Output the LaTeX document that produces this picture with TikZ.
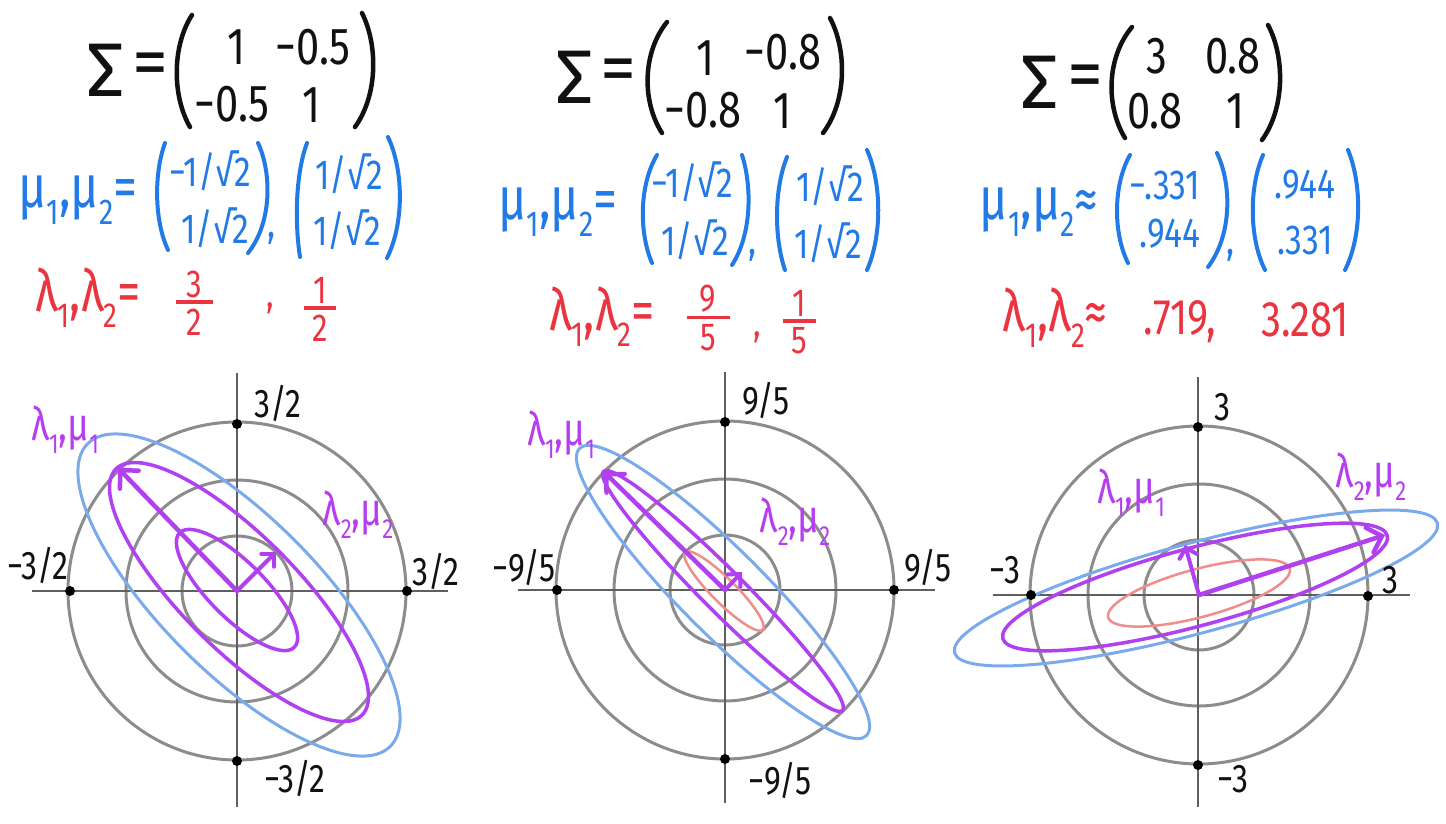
\documentclass[tikz,border=0pt]{standalone}
\usepackage{fontspec}
\setmainfont{Fira Sans}
\newfontfamily\narrowf[FakeStretch=0.8]{Fira Sans}
\usetikzlibrary{arrows.meta}
\definecolor{ink}{RGB}{17,17,17}
\definecolor{tblue}{RGB}{34,122,230}
\definecolor{tred}{RGB}{234,52,64}
\definecolor{tpurp}{RGB}{183,62,240}
\definecolor{eblue}{RGB}{122,170,235}
\definecolor{epurp}{RGB}{176,64,240}
\definecolor{esalm}{RGB}{240,140,140}
\definecolor{cgray}{RGB}{140,140,140}
\definecolor{agray}{RGB}{95,95,95}
\newcommand\lsub[1]{\raisebox{-0.28em}{\scalebox{0.6}{#1}}}
\newcommand\fracstack[3]{\vbox{\offinterlineskip\halign{\hfil##\hfil\cr #1\cr\noalign{\kern3pt}\rule{#3}{3.5pt}\cr\noalign{\kern5pt}#2\cr}}}
\begin{document}
\begin{tikzpicture}[x=1pt,y=-1pt,
  txt/.style={inner sep=0pt,anchor=center},
  big/.style={txt,font=\narrowf\fontsize{52}{60}\selectfont,text=ink},
  eqs/.style={txt,font=\fontsize{72}{80}\selectfont,text=ink},
  sig/.style={txt,font=\fontsize{76}{90}\selectfont,text=ink},
  vec/.style={txt,font=\narrowf\fontsize{42}{48}\selectfont,text=tblue},
  mulab/.style={txt,font=\narrowf\fontsize{60}{66}\selectfont,text=tblue},
  lamlab/.style={txt,font=\narrowf\fontsize{58}{66}\selectfont,text=tred},
  lamnum/.style={txt,font=\narrowf\fontsize{50}{58}\selectfont,text=tred},
  fracn/.style={txt,font=\narrowf\fontsize{39}{44}\selectfont,text=tred},
  axlab/.style={txt,font=\narrowf\fontsize{40}{46}\selectfont,text=ink},
  plab/.style={txt,font=\narrowf\fontsize{46}{52}\selectfont,text=tpurp},
  paren/.style={line width=4.5pt,draw=ink,line cap=round},
  bparen/.style={line width=4pt,draw=tblue,line cap=round},
  ring/.style={draw=cgray,line width=3pt},
  axisline/.style={draw=agray,line width=2.5pt},
  dotn/.style={circle,fill=black,inner sep=0pt,minimum size=10pt},
  pell/.style={draw=epurp,line width=3.5pt},
  bell/.style={draw=eblue,line width=3pt},
  sell/.style={draw=esalm,line width=2.5pt},
  evec/.style={draw=epurp,line width=4.5pt,line cap=round,
    -{Straight Barb[length=13pt,width=26pt,line width=4.5pt,line cap=round]}},
  evecs/.style={draw=epurp,line width=4pt,line cap=round,
    -{Straight Barb[length=9pt,width=18pt,line width=4pt,line cap=round]}}
]
\fill[white] (0,0) rectangle (1446,823);
\useasboundingbox (0,0) rectangle (1446,823);

% ---------------- Panel 1 ----------------
\coordinate (c1) at (237,591);
\draw[ring] (c1) circle[radius=55];
\draw[ring] (c1) circle[radius=111];
\draw[ring] (c1) circle[radius=169];
\coordinate (p1w) at (32,591); \coordinate (p1e) at (448,591);
\coordinate (p1n) at (237,373); \coordinate (p1s) at (237,807);
\draw[axisline] (p1w) -- (p1e);
\draw[axisline] (p1n) -- (p1s);
\draw[bell,rotate around={-45:(239,595)}] (239,595) ellipse[x radius=214,y radius=78];
\draw[pell,rotate around={-45:(239,592)}] (239,592) ellipse[x radius=174,y radius=57];
\draw[pell,rotate around={-45:(237,590)}] (237,590) ellipse[x radius=81,y radius=28];
\coordinate (t1a) at (118,468); \coordinate (t1b) at (276,552);
\draw[evec] (c1) -- (t1a);
\draw[evecs] (c1) -- (t1b);
\node[dotn] (d1n) at (237,424) {};
\node[dotn] (d1e) at (407,591) {};
\node[dotn] (d1w) at (70,591) {};
\node[dotn] (d1s) at (237,761) {};
\node[axlab] (a1n) at (278,403) {3/2};
\node[axlab] (a1w) at (38,565) {−3/2};
\node[axlab] (a1e) at (436,571) {3/2};
\node[axlab] (a1s) at (295,778) {−3/2};
\node[plab] (l1a) at (65,430) {λ\lsub{1},μ\lsub{1}};
\node[plab] (l1b) at (358,515) {λ\lsub{2},μ\lsub{2}};

% top texts panel 1
\node[sig] (s1) at (106,70) {Σ};
\node[eqs] (e1) at (150,70) {=};
\draw[paren] (192,15) .. controls (172,46) and (172,96) .. (190,127);
\draw[paren] (362,13) .. controls (378,45) and (378,95) .. (355,127);
\node[big] (m1a) at (237,47) {1};
\node[big] (m1b) at (313,47) {−0.5};
\node[big] (m1c) at (232,104) {−0.5};
\node[big] (m1d) at (312,105) {1};
\node[mulab] (u1) at (78,200) {μ\lsub{1},μ\lsub{2}=};
\draw[bparen] (165,143) .. controls (154,173) and (154,220) .. (168,250);
\draw[bparen] (258,143) .. controls (272,173) and (272,223) .. (248,253);
\draw[bparen] (307,143) .. controls (295,175) and (295,225) .. (300,257);
\draw[bparen] (388,137) .. controls (404,171) and (404,224) .. (387,258);
\node[vec] (v1a) at (210,171) {−1/√2};
\node[vec] (v1b) at (215,228) {1/√2};
\node[vec] (v1c) at (349,174) {1/√2};
\node[vec] (v1d) at (347,230) {1/√2};
\node[vec] (vc1) at (272,238) {,};
\node[lamlab] (r1) at (88,298) {λ\lsub{1},λ\lsub{2}=};
\node[fracn] (f1) at (194,303) {\fracstack{3}{2}{37pt}};
\node[fracn] (rc1) at (270,308) {,};
\node[fracn] (f2) at (320,309) {\fracstack{1}{2}{32pt}};

% ---------------- Panel 2 ----------------
\coordinate (c2) at (725,590);
\draw[ring] (c2) circle[radius=55];
\draw[ring] (c2) circle[radius=111];
\draw[ring] (c2) circle[radius=169];
\coordinate (p2w) at (518,590); \coordinate (p2e) at (935,590);
\coordinate (p2n) at (725,372); \coordinate (p2s) at (725,803);
\draw[axisline] (p2w) -- (p2e);
\draw[axisline] (p2n) -- (p2s);
\draw[bell,rotate around={-45:(723,592)}] (723,592) ellipse[x radius=203,y radius=42];
\draw[pell,rotate around={-45:(723,591)}] (723,591) ellipse[x radius=169,y radius=21];
\draw[sell,rotate around={-45:(724,591)}] (724,591) ellipse[x radius=55,y radius=12];
\coordinate (t2a) at (604,472); \coordinate (t2b) at (742,572);
\draw[evec] (c2) -- (t2a);
\draw[evecs] (c2) -- (t2b);
\node[dotn] (d2n) at (725,422) {};
\node[dotn] (d2e) at (894,590) {};
\node[dotn] (d2w) at (557,590) {};
\node[dotn] (d2s) at (725,759) {};
\node[axlab] (a2n) at (766,400) {9/5};
\node[axlab] (a2w) at (524,567) {−9/5};
\node[axlab] (a2e) at (928,567) {9/5};
\node[axlab] (a2s) at (780,780) {−9/5};
\node[plab] (l2a) at (561,435) {λ\lsub{1},μ\lsub{1}};
\node[plab] (l2b) at (795,522) {λ\lsub{2},μ\lsub{2}};

\node[sig] (s2) at (575,77) {Σ};
\node[eqs] (e2) at (618,76) {=};
\draw[paren] (667,22) .. controls (642,53) and (642,102) .. (662,133);
\draw[paren] (830,18) .. controls (847,50) and (847,101) .. (823,133);
\node[big] (m2a) at (705,58) {1};
\node[big] (m2b) at (783,52) {−0.8};
\node[big] (m2c) at (703,110) {−0.8};
\node[big] (m2d) at (782,111) {1};
\node[mulab] (u2) at (558,212) {μ\lsub{1},μ\lsub{2}=};
\draw[bparen] (657,155) .. controls (639,185) and (639,233) .. (652,263);
\draw[bparen] (742,155) .. controls (752,186) and (752,234) .. (732,265);
\draw[bparen] (787,157) .. controls (774,189) and (774,238) .. (785,270);
\draw[bparen] (867,150) .. controls (882,184) and (882,236) .. (867,270);
\node[vec] (v2a) at (692,182) {−1/√2};
\node[vec] (v2b) at (695,240) {1/√2};
\node[vec] (v2c) at (830,186) {1/√2};
\node[vec] (v2d) at (828,243) {1/√2};
\node[vec] (vc2) at (753,255) {,};
\node[lamlab] (r2) at (602,317) {λ\lsub{1},λ\lsub{2}=};
\node[fracn] (g1) at (708,318) {\fracstack{9}{5}{43pt}};
\node[fracn] (rc2) at (757,337) {,};
\node[fracn] (g2) at (799,322) {\fracstack{1}{5}{33pt}};

% ---------------- Panel 3 ----------------
\coordinate (c3) at (1199,595);
\draw[ring] (c3) circle[radius=55];
\draw[ring] (c3) circle[radius=111];
\draw[ring] (c3) circle[radius=169];
\coordinate (p3w) at (993,595); \coordinate (p3e) at (1410,595);
\coordinate (p3n) at (1198,377); \coordinate (p3s) at (1198,807);
\draw[axisline] (p3w) -- (p3e);
\draw[axisline] (p3n) -- (p3s);
\draw[bell,rotate around={15:(1196,588)}] (1196,588) ellipse[x radius=250,y radius=45];
\draw[pell,rotate around={15:(1195,587)}] (1195,587) ellipse[x radius=199,y radius=39];
\draw[sell,rotate around={15:(1199,593)}] (1199,593) ellipse[x radius=94,y radius=24];
\coordinate (t3a) at (1185,545); \coordinate (t3b) at (1385,535);
\draw[evecs] (c3) -- (t3a);
\draw[evec] (c3) -- (t3b);
\node[dotn] (d3n) at (1198,427) {};
\node[dotn] (d3e) at (1368,596) {};
\node[dotn] (d3w) at (1031,595) {};
\node[dotn] (d3s) at (1198,765) {};
\node[axlab] (a3n) at (1222,407) {3};
\node[axlab] (a3w) at (1005,570) {−3};
\node[axlab] (a3e) at (1390,580) {3};
\node[axlab] (a3s) at (1233,779) {−3};
\node[plab] (l3a) at (1131,493) {λ\lsub{1},μ\lsub{1}};
\node[plab] (l3b) at (1371,477) {λ\lsub{2},μ\lsub{2}};

\node[sig] (s3) at (1040,82) {Σ};
\node[eqs] (e3) at (1085,82) {=};
\draw[paren] (1132,27) .. controls (1106,58) and (1106,107) .. (1125,138);
\draw[paren] (1268,25) .. controls (1285,57) and (1285,108) .. (1262,140);
\node[big] (m3a) at (1157,56) {3};
\node[big] (m3b) at (1233,56) {0.8};
\node[big] (m3c) at (1155,111) {0.8};
\node[big] (m3d) at (1235,111) {1};
\node[mulab] (u3) at (1039,212) {μ\lsub{1},μ\lsub{2}≈};
\draw[bparen] (1130,155) .. controls (1113,185) and (1113,233) .. (1128,263);
\draw[bparen] (1217,153) .. controls (1232,185) and (1232,235) .. (1208,267);
\draw[bparen] (1263,155) .. controls (1249,187) and (1249,238) .. (1265,270);
\draw[bparen] (1348,150) .. controls (1362,184) and (1362,236) .. (1345,270);
\node[vec] (v3a) at (1165,185) {−.331};
\node[vec] (v3b) at (1170,234) {.944};
\node[vec] (v3c) at (1305,185) {.944};
\node[vec] (v3d) at (1305,240) {.331};
\node[vec] (vc3) at (1231,255) {,};
\node[lamlab] (r3) at (1055,318) {λ\lsub{1},λ\lsub{2}≈};
\node[lamnum] (r3a) at (1180,322) {.719,};
\node[lamnum] (r3b) at (1305,320) {3.281};
\end{tikzpicture}
\end{document}
